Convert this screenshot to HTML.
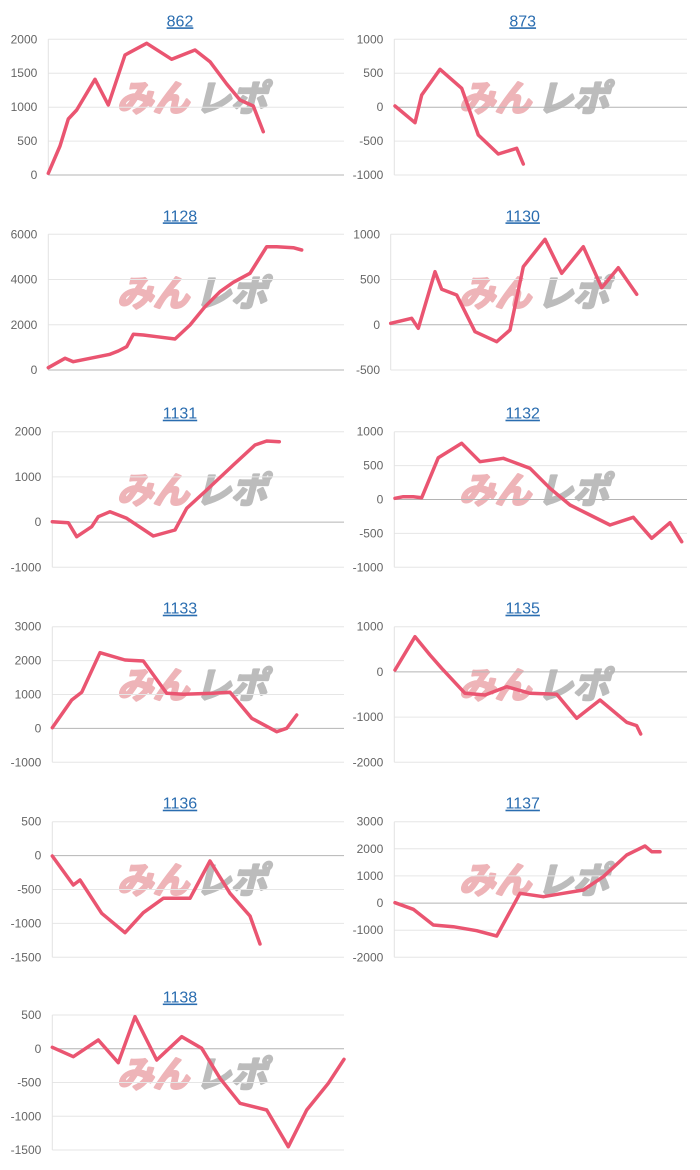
<!DOCTYPE html>
<html><head><meta charset="utf-8"><style>
html,body{margin:0;padding:0;background:#fff;}
svg{display:block;}
.t{font-family:"Liberation Sans",Arial,sans-serif;font-size:16px;fill:#2a6db0;text-anchor:middle;}
.l{font-family:"Liberation Sans",Arial,sans-serif;font-size:12px;fill:#666;text-anchor:end;}
.g{stroke:#e6e6e6;stroke-width:1;}
.z{stroke:#b4b4b4;stroke-width:1;}
.a{stroke:#e2e2e2;stroke-width:1;}
.s{fill:none;stroke:#ea5571;stroke-width:3.5;stroke-linejoin:round;stroke-linecap:round;}
.wp{font-family:"Noto Sans CJK JP","Liberation Sans",sans-serif;font-size:36px;font-weight:bold;fill:#eeb4b8;stroke:#eeb4b8;stroke-width:2.4;stroke-linejoin:round;}
.wg{font-family:"Noto Sans CJK JP","Liberation Sans",sans-serif;font-size:36px;font-weight:bold;fill:#bcbcbc;stroke:#bcbcbc;stroke-width:2.4;stroke-linejoin:round;}
</style></head><body>
<svg width="700" height="1170" viewBox="0 0 700 1170" xmlns="http://www.w3.org/2000/svg">

<!-- Watermarks -->
<g transform="translate(117,111) skewX(-14)"><text class="wp" x="0" y="0">みん</text><text class="wg" x="78" y="0">レポ</text></g>
<g transform="translate(459,111) skewX(-14)"><text class="wp" x="0" y="0">みん</text><text class="wg" x="78" y="0">レポ</text></g>
<g transform="translate(117,306) skewX(-14)"><text class="wp" x="0" y="0">みん</text><text class="wg" x="78" y="0">レポ</text></g>
<g transform="translate(459,306) skewX(-14)"><text class="wp" x="0" y="0">みん</text><text class="wg" x="78" y="0">レポ</text></g>
<g transform="translate(117,503) skewX(-14)"><text class="wp" x="0" y="0">みん</text><text class="wg" x="78" y="0">レポ</text></g>
<g transform="translate(459,503) skewX(-14)"><text class="wp" x="0" y="0">みん</text><text class="wg" x="78" y="0">レポ</text></g>
<g transform="translate(117,698) skewX(-14)"><text class="wp" x="0" y="0">みん</text><text class="wg" x="78" y="0">レポ</text></g>
<g transform="translate(459,698) skewX(-14)"><text class="wp" x="0" y="0">みん</text><text class="wg" x="78" y="0">レポ</text></g>
<g transform="translate(117,893) skewX(-14)"><text class="wp" x="0" y="0">みん</text><text class="wg" x="78" y="0">レポ</text></g>
<g transform="translate(459,893) skewX(-14)"><text class="wp" x="0" y="0">みん</text><text class="wg" x="78" y="0">レポ</text></g>
<g transform="translate(117,1087) skewX(-14)"><text class="wp" x="0" y="0">みん</text><text class="wg" x="78" y="0">レポ</text></g>

<!-- 862 -->
<text class="t" x="180" y="26.3" text-decoration="underline">862</text>
<line class="g" x1="48.3" y1="39.3" x2="344" y2="39.3"/>
<line class="g" x1="48.3" y1="73.2" x2="344" y2="73.2"/>
<line class="g" x1="48.3" y1="107.2" x2="344" y2="107.2"/>
<line class="g" x1="48.3" y1="141.1" x2="344" y2="141.1"/>
<line class="a" x1="48.3" y1="39.3" x2="48.3" y2="175"/>
<line class="z" x1="48.3" y1="175" x2="344" y2="175"/>
<text class="l" x="37.3" y="43.3">2000</text>
<text class="l" x="37.3" y="77.2">1500</text>
<text class="l" x="37.3" y="111.2">1000</text>
<text class="l" x="37.3" y="145.1">500</text>
<text class="l" x="37.3" y="179">0</text>
<polyline class="s" points="48.3,173.3 60,146 68.3,119 76.7,110 95,79.3 108.3,105 125,55 146.7,43.3 171.7,59.3 195,50 210,61.7 226.7,84 240,100 253.3,106 263.3,131.7"/>

<!-- 873 -->
<text class="t" x="522.7" y="26.3" text-decoration="underline">873</text>
<line class="g" x1="394.3" y1="39.3" x2="687" y2="39.3"/>
<line class="g" x1="394.3" y1="73.2" x2="687" y2="73.2"/>
<line class="g" x1="394.3" y1="141.1" x2="687" y2="141.1"/>
<line class="g" x1="394.3" y1="175" x2="687" y2="175"/>
<line class="a" x1="394.3" y1="39.3" x2="394.3" y2="175"/>
<line class="z" x1="394.3" y1="107.2" x2="687" y2="107.2"/>
<text class="l" x="383.3" y="43.3">1000</text>
<text class="l" x="383.3" y="77.2">500</text>
<text class="l" x="383.3" y="111.2">0</text>
<text class="l" x="383.3" y="145.1">-500</text>
<text class="l" x="383.3" y="179">-1000</text>
<polyline class="s" points="395,106 415,122.7 421.7,95 440,69.3 461.7,88.3 478.3,135 498.3,154 516.7,148.3 523.3,164"/>

<!-- 1128 -->
<text class="t" x="180" y="221.3" text-decoration="underline">1128</text>
<line class="g" x1="48.3" y1="234.3" x2="344" y2="234.3"/>
<line class="g" x1="48.3" y1="279.5" x2="344" y2="279.5"/>
<line class="g" x1="48.3" y1="324.8" x2="344" y2="324.8"/>
<line class="a" x1="48.3" y1="234.3" x2="48.3" y2="370"/>
<line class="z" x1="48.3" y1="370" x2="344" y2="370"/>
<text class="l" x="37.3" y="238.3">6000</text>
<text class="l" x="37.3" y="283.5">4000</text>
<text class="l" x="37.3" y="328.8">2000</text>
<text class="l" x="37.3" y="374">0</text>
<polyline class="s" points="48.3,367.7 65,358.3 73.3,361.7 110,354.3 118.3,351 126.7,346.7 133.3,334.3 143.3,335 156.7,336.7 175,339 190,325 205,306.7 220,291.7 233.3,282.3 250,273.3 266.7,246.7 276.7,246.7 293.3,247.7 301.7,250"/>

<!-- 1130 -->
<text class="t" x="522.7" y="221.3" text-decoration="underline">1130</text>
<line class="g" x1="390.7" y1="234.3" x2="687" y2="234.3"/>
<line class="g" x1="390.7" y1="279.5" x2="687" y2="279.5"/>
<line class="g" x1="390.7" y1="370" x2="687" y2="370"/>
<line class="a" x1="390.7" y1="234.3" x2="390.7" y2="370"/>
<line class="z" x1="390.7" y1="324.8" x2="687" y2="324.8"/>
<text class="l" x="380" y="238.3">1000</text>
<text class="l" x="380" y="283.5">500</text>
<text class="l" x="380" y="328.8">0</text>
<text class="l" x="380" y="374">-500</text>
<polyline class="s" points="390.7,323.3 411.7,318.3 418.3,328.3 435,271.7 441.7,289.3 456.7,295 475,331.7 496.7,341.7 510,330 523.3,266.7 545,239.3 561.7,273.3 583.3,246.7 601.7,287.7 618.3,267.7 636.7,294.3"/>

<!-- 1131 -->
<text class="t" x="180" y="418.7" text-decoration="underline">1131</text>
<line class="g" x1="52.3" y1="431.7" x2="344" y2="431.7"/>
<line class="g" x1="52.3" y1="476.9" x2="344" y2="476.9"/>
<line class="g" x1="52.3" y1="567.3" x2="344" y2="567.3"/>
<line class="a" x1="52.3" y1="431.7" x2="52.3" y2="567.3"/>
<line class="z" x1="52.3" y1="522.1" x2="344" y2="522.1"/>
<text class="l" x="41.3" y="435.7">2000</text>
<text class="l" x="41.3" y="480.9">1000</text>
<text class="l" x="41.3" y="526.1">0</text>
<text class="l" x="41.3" y="571.3">-1000</text>
<polyline class="s" points="52.3,521.7 68.3,522.7 76.7,536.7 91.7,526.7 98.3,516.7 110,511.7 126.7,518.3 153.3,536 175,530 186.7,508.3 206.7,490 233.3,465 255,445 266.7,441 279.3,441.7"/>

<!-- 1132 -->
<text class="t" x="522.7" y="418.7" text-decoration="underline">1132</text>
<line class="g" x1="394.3" y1="431.7" x2="687" y2="431.7"/>
<line class="g" x1="394.3" y1="465.6" x2="687" y2="465.6"/>
<line class="g" x1="394.3" y1="533.4" x2="687" y2="533.4"/>
<line class="g" x1="394.3" y1="567.3" x2="687" y2="567.3"/>
<line class="a" x1="394.3" y1="431.7" x2="394.3" y2="567.3"/>
<line class="z" x1="394.3" y1="499.5" x2="687" y2="499.5"/>
<text class="l" x="383.3" y="435.7">1000</text>
<text class="l" x="383.3" y="469.6">500</text>
<text class="l" x="383.3" y="503.5">0</text>
<text class="l" x="383.3" y="537.4">-500</text>
<text class="l" x="383.3" y="571.3">-1000</text>
<polyline class="s" points="395,498.3 403.3,496.7 413.3,496.7 421.7,497.7 438.3,457.7 461.7,443.3 480,461.7 503.3,458.3 530,468.3 550,488.3 570,505 590,515 610,525 633.3,517.3 651.7,538.3 670,522.7 681.7,541.7"/>

<!-- 1133 -->
<text class="t" x="180" y="613.7" text-decoration="underline">1133</text>
<line class="g" x1="52.3" y1="626.7" x2="344" y2="626.7"/>
<line class="g" x1="52.3" y1="660.6" x2="344" y2="660.6"/>
<line class="g" x1="52.3" y1="694.5" x2="344" y2="694.5"/>
<line class="g" x1="52.3" y1="762.3" x2="344" y2="762.3"/>
<line class="a" x1="52.3" y1="626.7" x2="52.3" y2="762.3"/>
<line class="z" x1="52.3" y1="728.4" x2="344" y2="728.4"/>
<text class="l" x="41.3" y="630.7">3000</text>
<text class="l" x="41.3" y="664.6">2000</text>
<text class="l" x="41.3" y="698.5">1000</text>
<text class="l" x="41.3" y="732.4">0</text>
<text class="l" x="41.3" y="766.3">-1000</text>
<polyline class="s" points="52.3,727.7 71.7,700 81.7,692.3 100,652.7 125,660 143.3,661 166.7,693.3 183.3,694.3 213.3,693.3 230,692.3 251.7,718.3 276.7,731.7 286.7,728.3 296.7,715"/>

<!-- 1135 -->
<text class="t" x="522.7" y="613.7" text-decoration="underline">1135</text>
<line class="g" x1="394.3" y1="626.7" x2="687" y2="626.7"/>
<line class="g" x1="394.3" y1="717.1" x2="687" y2="717.1"/>
<line class="g" x1="394.3" y1="762.3" x2="687" y2="762.3"/>
<line class="a" x1="394.3" y1="626.7" x2="394.3" y2="762.3"/>
<line class="z" x1="394.3" y1="671.9" x2="687" y2="671.9"/>
<text class="l" x="383.3" y="630.7">1000</text>
<text class="l" x="383.3" y="675.9">0</text>
<text class="l" x="383.3" y="721.1">-1000</text>
<text class="l" x="383.3" y="766.3">-2000</text>
<polyline class="s" points="395,670 415,636.7 430,655 441.7,668.3 465,693.3 485,695 506.7,686.7 530,693.3 556.7,694.3 576.7,718.3 600,700 626.7,722.3 636.7,725.7 640.7,734"/>

<!-- 1136 -->
<text class="t" x="180" y="808.7" text-decoration="underline">1136</text>
<line class="g" x1="52.3" y1="821.7" x2="344" y2="821.7"/>
<line class="g" x1="52.3" y1="889.5" x2="344" y2="889.5"/>
<line class="g" x1="52.3" y1="923.4" x2="344" y2="923.4"/>
<line class="g" x1="52.3" y1="957.3" x2="344" y2="957.3"/>
<line class="a" x1="52.3" y1="821.7" x2="52.3" y2="957.3"/>
<line class="z" x1="52.3" y1="855.6" x2="344" y2="855.6"/>
<text class="l" x="41.3" y="825.7">500</text>
<text class="l" x="41.3" y="859.6">0</text>
<text class="l" x="41.3" y="893.5">-500</text>
<text class="l" x="41.3" y="927.4">-1000</text>
<text class="l" x="41.3" y="961.3">-1500</text>
<polyline class="s" points="52.3,856 73.3,885 80,880 101.7,913.3 125,932.7 143.3,912.7 163.3,898.3 190,898.3 210,861 230,893.3 250,916 260,944"/>

<!-- 1137 -->
<text class="t" x="522.7" y="808.7" text-decoration="underline">1137</text>
<line class="g" x1="394.3" y1="821.7" x2="687" y2="821.7"/>
<line class="g" x1="394.3" y1="848.8" x2="687" y2="848.8"/>
<line class="g" x1="394.3" y1="875.9" x2="687" y2="875.9"/>
<line class="g" x1="394.3" y1="930.2" x2="687" y2="930.2"/>
<line class="g" x1="394.3" y1="957.3" x2="687" y2="957.3"/>
<line class="a" x1="394.3" y1="821.7" x2="394.3" y2="957.3"/>
<line class="z" x1="394.3" y1="903.1" x2="687" y2="903.1"/>
<text class="l" x="383.3" y="825.7">3000</text>
<text class="l" x="383.3" y="852.8">2000</text>
<text class="l" x="383.3" y="879.9">1000</text>
<text class="l" x="383.3" y="907.1">0</text>
<text class="l" x="383.3" y="934.2">-1000</text>
<text class="l" x="383.3" y="961.3">-2000</text>
<polyline class="s" points="395,902.7 413.3,909.3 433.3,925 453.3,926.7 476.7,930.7 496.7,936 520,893.3 543.3,896.7 563.3,893.3 583.3,890 603.3,876.7 626.7,855 645,846 651.7,851.7 660,851.7"/>

<!-- 1138 -->
<text class="t" x="180" y="1002.5" text-decoration="underline">1138</text>
<line class="g" x1="52.3" y1="1015" x2="344" y2="1015"/>
<line class="g" x1="52.3" y1="1082.5" x2="344" y2="1082.5"/>
<line class="g" x1="52.3" y1="1116.25" x2="344" y2="1116.25"/>
<line class="g" x1="52.3" y1="1150" x2="344" y2="1150"/>
<line class="a" x1="52.3" y1="1015" x2="52.3" y2="1150"/>
<line class="z" x1="52.3" y1="1048.75" x2="344" y2="1048.75"/>
<text class="l" x="41.3" y="1019">500</text>
<text class="l" x="41.3" y="1052.75">0</text>
<text class="l" x="41.3" y="1086.5">-500</text>
<text class="l" x="41.3" y="1120.25">-1000</text>
<text class="l" x="41.3" y="1154">-1500</text>
<polyline class="s" points="52.3,1047.3 73.3,1056.7 98.3,1040 118.3,1062.7 135,1016.7 156.7,1060 181.7,1036.7 201.7,1048.3 220,1078.3 240,1103.3 266.7,1110 288.3,1146.7 306.7,1110 328.3,1083.3 344,1059.3"/>

</svg>
</body></html>
